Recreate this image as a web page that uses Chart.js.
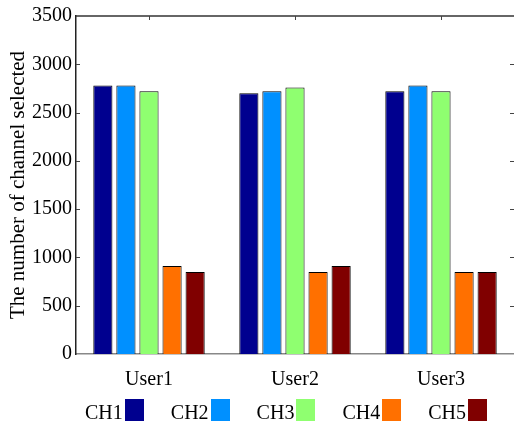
<!DOCTYPE html>
<html>
<head>
<meta charset="utf-8">
<script src="https://cdn.jsdelivr.net/npm/chart.js@4.4.0/dist/chart.umd.min.js"></script>
<style>
  body { margin: 0; background: #fff; }
  #wrap { position: relative; width: 514px; height: 428px; }
  #legend {
    position: absolute; left: 85px; top: 399px;
    display: flex; align-items: flex-end;
    font-family: "Liberation Serif", "DejaVu Serif", serif; font-size: 20px; color: #000;
  }
  .item { display: flex; align-items: flex-end; margin-right: 27px; line-height: 22px; }
  .sw { width: 19px; height: 22px; margin-left: 2px; margin-bottom: 2px; }
</style>
</head>
<body>
<div id="wrap">
  <canvas id="c" width="514" height="428"></canvas>
  <div id="legend"></div>
</div>
<script>
const users = ["User1", "User2", "User3"];
const channels = ["CH1", "CH2", "CH3", "CH4", "CH5"];
const ch1 = [2780, 2700, 2720];
const ch2 = [2780, 2720, 2780];
const ch3 = [2720, 2760, 2720];
const ch4 = [910, 850, 850];
const ch5 = [850, 910, 850];
const yTicks = [0, 500, 1000, 1500, 2000, 2500, 3000, 3500];

const colors = ["#00008f", "#0090ff", "#8fff70", "#ff7000", "#800000"];
const series = [ch1, ch2, ch3, ch4, ch5];

const serif = "'Liberation Serif', 'DejaVu Serif', serif";

// matlab-ish box with inward ticks
const framePlugin = {
  id: "frame",
  afterDraw(chart) {
    const ctx = chart.ctx;
    const a = chart.chartArea;
    const x = chart.scales.x, y = chart.scales.y;
    ctx.save();
    ctx.strokeStyle = "#333";
    ctx.lineWidth = 1.5;
    ctx.beginPath();
    ctx.moveTo(a.left, a.top);
    ctx.lineTo(a.right, a.top);
    ctx.stroke();
    ctx.lineWidth = 1;
    ctx.strokeStyle = "#444";
    ctx.beginPath();
    yTicks.forEach(v => {
      const py = Math.round(y.getPixelForValue(v)) + 0.5;
      if (v === 0 || v === 3500) return;
      ctx.moveTo(a.left, py); ctx.lineTo(a.left + 4, py);
      ctx.moveTo(a.right - 4, py); ctx.lineTo(a.right, py);
    });
    users.forEach((u, i) => {
      const px = Math.round(x.getPixelForValue(i)) + 0.5;
      ctx.moveTo(px, a.top); ctx.lineTo(px, a.top + 4);
    });
    ctx.stroke();
    ctx.restore();
  }
};

new Chart(document.getElementById("c"), {
  type: "bar",
  data: {
    labels: users,
    datasets: channels.map((name, i) => ({
      label: name,
      data: series[i],
      backgroundColor: colors[i],
      borderColor: "#000",
      borderWidth: 1,
      barPercentage: 0.83,
      categoryPercentage: 0.79
    }))
  },
  options: {
    responsive: false,
    animation: false,
    layout: { padding: { top: 9, right: 0, left: 6, bottom: 0 } },
    plugins: { legend: { display: false }, tooltip: { enabled: false } },
    scales: {
      x: {
        grid: { display: false, drawTicks: false },
        border: { display: true, color: "#888", width: 1.5 },
        ticks: { color: "#000", padding: 14, font: { family: serif, size: 20 } },
        afterFit(s) { s.height = 74; }
      },
      y: {
        min: 0, max: 3500,
        afterBuildTicks(s) { s.ticks = yTicks.map(v => ({ value: v })); },
        grid: { display: false, drawTicks: false },
        border: { display: true, color: "#222", width: 1.5 },
        ticks: {
          color: "#000", padding: 4, font: { family: serif, size: 20 },
          callback: v => String(v)
        },
        title: {
          display: true, text: "The number of channel selected",
          color: "#000", font: { family: serif, size: 21 }, padding: 0
        },
        afterFit(s) { s.width = 70; }
      }
    }
  },
  plugins: [framePlugin]
});

const legend = document.getElementById("legend");
channels.forEach((name, i) => {
  const it = document.createElement("div");
  it.className = "item";
  it.innerHTML = '<span>' + name + '</span><span class="sw" style="background:' + colors[i] + '"></span>';
  legend.appendChild(it);
});
</script>
</body>
</html>
